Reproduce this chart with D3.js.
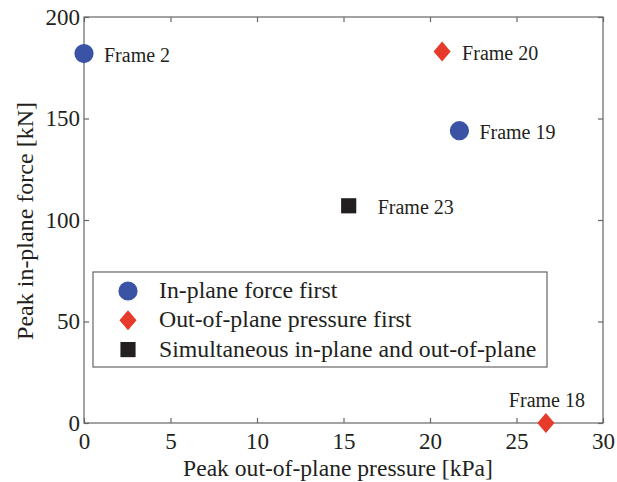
<!DOCTYPE html>
<html>
<head>
<meta charset="utf-8">
<script src="https://cdn.jsdelivr.net/npm/d3@7"></script>
<style>
  body { margin: 0; background: #fff; }
  svg text { font-family: "Liberation Serif", "Times New Roman", serif; fill: #231f20; }
</style>
</head>
<body>
<div id="chart"></div>
<script>
const frames = ["Frame 2", "Frame 20", "Frame 19", "Frame 23", "Frame 18"];
const pressure = [0, 20.7, 21.7, 15.3, 26.7];
const force = [182, 183, 144, 107, 0];
const groups = ["inplane", "outplane", "inplane", "simul", "outplane"];

const legendLabels = ["In-plane force first", "Out-of-plane pressure first", "Simultaneous in-plane and out-of-plane"];
const legendGroups = ["inplane", "outplane", "simul"];

const xTicks = [0, 5, 10, 15, 20, 25, 30];
const yTicks = [0, 50, 100, 150, 200];

// wider diamond than d3.symbolDiamond, like the MATLAB marker
const fatDiamond = {
    draw(context, size) {
        const h = Math.sqrt(size) * 0.75;
        const w = h * 0.85;
        context.moveTo(0, -h);
        context.lineTo(w, 0);
        context.lineTo(0, h);
        context.lineTo(-w, 0);
        context.closePath();
    }
};

function drawChart(selector = "#chart") {
    const width = 617;
    const height = 482;
    const margin = { top: 17, right: 14, bottom: 59, left: 84 };

    const colors = { inplane: "#3a53a4", outplane: "#e63b2a", simul: "#231f20" };
    const symbols = { inplane: d3.symbolCircle, outplane: fatDiamond, simul: d3.symbolSquare };
    const sizes = { inplane: 290, outplane: 180, simul: 230 };

    const svg = d3.select(selector)
        .append("svg")
        .attr("width", width)
        .attr("height", height);

    const x = d3.scaleLinear()
        .domain([0, 30])
        .range([margin.left, width - margin.right]);

    const y = d3.scaleLinear()
        .domain([0, 200])
        .range([height - margin.bottom, margin.top]);

    // frame box
    svg.append("rect")
        .attr("x", x(0))
        .attr("y", y(200))
        .attr("width", x(30) - x(0))
        .attr("height", y(0) - y(200))
        .attr("fill", "none")
        .attr("stroke", "#666")
        .attr("stroke-width", 1.2);

    // inward ticks on all four sides
    const tickLen = 5;
    const tickStyle = g => {
        g.select(".domain").remove();
        g.selectAll(".tick line").attr("stroke", "#666").attr("stroke-width", 1.2);
        g.selectAll(".tick text").style("font-size", "23px").attr("fill", "#231f20");
    };

    svg.append("g")
        .attr("transform", `translate(0,${y(0)})`)
        .call(d3.axisBottom(x).tickValues(xTicks).tickSize(-tickLen).tickPadding(10))
        .call(tickStyle);

    svg.append("g")
        .attr("transform", `translate(0,${y(200)})`)
        .call(d3.axisTop(x).tickValues(xTicks).tickSize(-tickLen).tickFormat(""))
        .call(tickStyle);

    svg.append("g")
        .attr("transform", `translate(${x(0)},0)`)
        .call(d3.axisLeft(y).tickValues(yTicks).tickSize(-tickLen).tickPadding(4))
        .call(tickStyle);

    svg.append("g")
        .attr("transform", `translate(${x(30)},0)`)
        .call(d3.axisRight(y).tickValues(yTicks).tickSize(-tickLen).tickFormat(""))
        .call(tickStyle);

    // axis titles
    svg.append("text")
        .attr("x", 338)
        .attr("y", height - 6)
        .attr("text-anchor", "middle")
        .style("font-size", "23.6px")
        .text("Peak out-of-plane pressure [kPa]");

    svg.append("text")
        .attr("transform", "rotate(-90)")
        .attr("x", -221)
        .attr("y", 33)
        .attr("text-anchor", "middle")
        .style("font-size", "24px")
        .text("Peak in-plane force [kN]");

    // points
    const points = frames.map((f, i) => ({ name: f, px: pressure[i], fy: force[i], g: groups[i] }));

    svg.selectAll(".pt")
        .data(points)
        .join("path")
        .attr("class", "pt")
        .attr("transform", d => `translate(${x(d.px)},${y(d.fy)})`)
        .attr("d", d => d3.symbol(symbols[d.g], sizes[d.g])())
        .attr("fill", d => colors[d.g]);

    // point labels: Frame 18 sits above its marker, the rest to the right
    svg.selectAll(".pt-label")
        .data(points)
        .join("text")
        .attr("class", "pt-label")
        .attr("x", d => d.fy === 0 ? x(d.px) + 1 : x(d.px) + (d.g === "simul" ? 29 : 20))
        .attr("y", d => d.fy === 0 ? y(d.fy) - 16 : y(d.fy) + 8)
        .attr("text-anchor", d => d.fy === 0 ? "middle" : "start")
        .style("font-size", "20px")
        .text(d => d.name);

    // legend
    const legend = svg.append("g")
        .attr("transform", `translate(93, 272)`);

    legend.append("rect")
        .attr("width", 454)
        .attr("height", 95)
        .attr("fill", "#fff")
        .attr("stroke", "#666")
        .attr("stroke-width", 1.2);

    legendGroups.forEach((g, i) => {
        const cy = 19 + i * 29.3;
        legend.append("path")
            .attr("transform", `translate(35,${cy})`)
            .attr("d", d3.symbol(symbols[g], sizes[g])())
            .attr("fill", colors[g]);
        legend.append("text")
            .attr("x", 66)
            .attr("y", cy + 7)
            .style("font-size", "23.8px")
            .text(legendLabels[i]);
    });
}

drawChart();
</script>
</body>
</html>
